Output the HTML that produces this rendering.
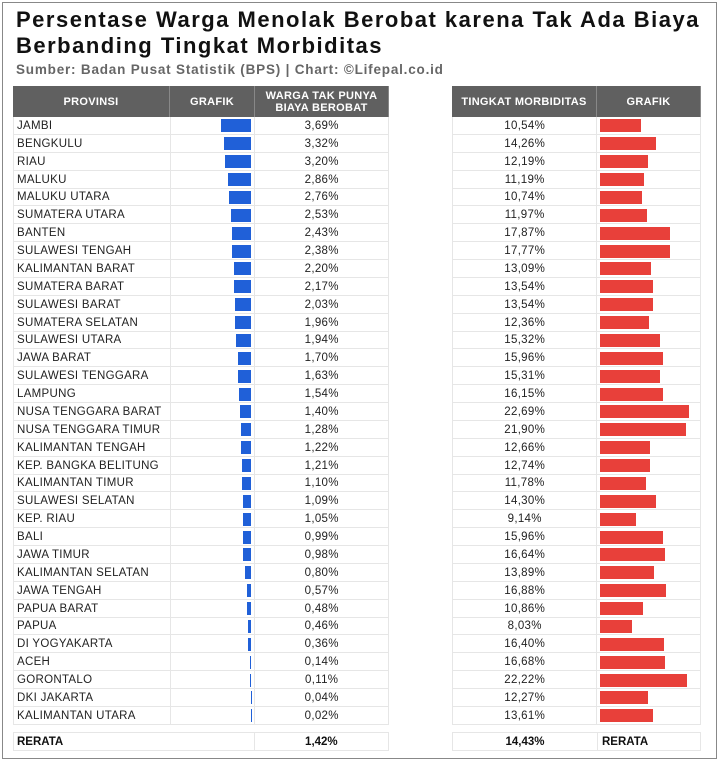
<!DOCTYPE html>
<html><head><meta charset="utf-8"><style>
*{margin:0;padding:0;box-sizing:border-box}
body{width:720px;height:763px;background:#fff;font-family:"Liberation Sans",sans-serif;position:relative;overflow:hidden}
.frame{position:absolute;left:2px;top:2px;width:715px;height:757px;border:1px solid #888}
h1{position:absolute;left:16px;top:7px;font-size:22px;line-height:26px;font-weight:bold;color:#111;letter-spacing:1.5px}
.sub{position:absolute;left:16px;top:62px;font-size:13.5px;font-weight:bold;color:#666;letter-spacing:0.8px}
.hdr{position:absolute;top:86px;height:31px;background:#606060;color:#fff;font-weight:bold;font-size:11px;display:flex;align-items:center;justify-content:center;text-align:center;line-height:12px;border-right:1px solid #888;letter-spacing:0.3px}
.rows{position:absolute;top:117px}
.r{height:17.88px;display:flex;border-bottom:1px solid #e6e6e6;font-size:11.5px;color:#222;align-items:center;letter-spacing:0.3px}
.r div{height:100%;display:flex;align-items:center;border-right:1px solid #e6e6e6;padding-top:1px}
.b{height:13px;border:none!important}
.bl{background:#2060d8}.rd{background:#e8403a}
.foot{position:absolute;top:732px;height:19px;display:flex;border:1px solid #e6e6e6;font-size:11.5px;font-weight:bold;color:#111;align-items:center}
</style></head><body>
<div class="frame"></div>
<h1>Persentase Warga Menolak Berobat karena Tak Ada Biaya<br>Berbanding Tingkat Morbiditas</h1>
<div class="sub">Sumber: Badan Pusat Statistik (BPS) | Chart: ©Lifepal.co.id</div>
<div class="hdr" style="left:13px;width:157px">PROVINSI</div>
<div class="hdr" style="left:170px;width:85px">GRAFIK</div>
<div class="hdr" style="left:255px;width:134px">WARGA TAK PUNYA<br>BIAYA BEROBAT</div>
<div class="hdr" style="left:452px;width:145px">TINGKAT MORBIDITAS</div>
<div class="hdr" style="left:597px;width:104px">GRAFIK</div>

<div class="rows" style="left:13px;width:376px;border-left:1px solid #e6e6e6">
<div class="r"><div style="width:157px;padding-left:3px">JAMBI</div><div style="width:85px;justify-content:flex-end;padding-right:3px"><span class="b bl" style="width:29.9px"></span></div><div style="width:134px;justify-content:center">3,69%</div></div>
<div class="r"><div style="width:157px;padding-left:3px">BENGKULU</div><div style="width:85px;justify-content:flex-end;padding-right:3px"><span class="b bl" style="width:26.9px"></span></div><div style="width:134px;justify-content:center">3,32%</div></div>
<div class="r"><div style="width:157px;padding-left:3px">RIAU</div><div style="width:85px;justify-content:flex-end;padding-right:3px"><span class="b bl" style="width:25.9px"></span></div><div style="width:134px;justify-content:center">3,20%</div></div>
<div class="r"><div style="width:157px;padding-left:3px">MALUKU</div><div style="width:85px;justify-content:flex-end;padding-right:3px"><span class="b bl" style="width:23.2px"></span></div><div style="width:134px;justify-content:center">2,86%</div></div>
<div class="r"><div style="width:157px;padding-left:3px">MALUKU UTARA</div><div style="width:85px;justify-content:flex-end;padding-right:3px"><span class="b bl" style="width:22.4px"></span></div><div style="width:134px;justify-content:center">2,76%</div></div>
<div class="r"><div style="width:157px;padding-left:3px">SUMATERA UTARA</div><div style="width:85px;justify-content:flex-end;padding-right:3px"><span class="b bl" style="width:20.5px"></span></div><div style="width:134px;justify-content:center">2,53%</div></div>
<div class="r"><div style="width:157px;padding-left:3px">BANTEN</div><div style="width:85px;justify-content:flex-end;padding-right:3px"><span class="b bl" style="width:19.7px"></span></div><div style="width:134px;justify-content:center">2,43%</div></div>
<div class="r"><div style="width:157px;padding-left:3px">SULAWESI TENGAH</div><div style="width:85px;justify-content:flex-end;padding-right:3px"><span class="b bl" style="width:19.3px"></span></div><div style="width:134px;justify-content:center">2,38%</div></div>
<div class="r"><div style="width:157px;padding-left:3px">KALIMANTAN BARAT</div><div style="width:85px;justify-content:flex-end;padding-right:3px"><span class="b bl" style="width:17.8px"></span></div><div style="width:134px;justify-content:center">2,20%</div></div>
<div class="r"><div style="width:157px;padding-left:3px">SUMATERA BARAT</div><div style="width:85px;justify-content:flex-end;padding-right:3px"><span class="b bl" style="width:17.6px"></span></div><div style="width:134px;justify-content:center">2,17%</div></div>
<div class="r"><div style="width:157px;padding-left:3px">SULAWESI BARAT</div><div style="width:85px;justify-content:flex-end;padding-right:3px"><span class="b bl" style="width:16.4px"></span></div><div style="width:134px;justify-content:center">2,03%</div></div>
<div class="r"><div style="width:157px;padding-left:3px">SUMATERA SELATAN</div><div style="width:85px;justify-content:flex-end;padding-right:3px"><span class="b bl" style="width:15.9px"></span></div><div style="width:134px;justify-content:center">1,96%</div></div>
<div class="r"><div style="width:157px;padding-left:3px">SULAWESI UTARA</div><div style="width:85px;justify-content:flex-end;padding-right:3px"><span class="b bl" style="width:15.7px"></span></div><div style="width:134px;justify-content:center">1,94%</div></div>
<div class="r"><div style="width:157px;padding-left:3px">JAWA BARAT</div><div style="width:85px;justify-content:flex-end;padding-right:3px"><span class="b bl" style="width:13.8px"></span></div><div style="width:134px;justify-content:center">1,70%</div></div>
<div class="r"><div style="width:157px;padding-left:3px">SULAWESI TENGGARA</div><div style="width:85px;justify-content:flex-end;padding-right:3px"><span class="b bl" style="width:13.2px"></span></div><div style="width:134px;justify-content:center">1,63%</div></div>
<div class="r"><div style="width:157px;padding-left:3px">LAMPUNG</div><div style="width:85px;justify-content:flex-end;padding-right:3px"><span class="b bl" style="width:12.5px"></span></div><div style="width:134px;justify-content:center">1,54%</div></div>
<div class="r"><div style="width:157px;padding-left:3px">NUSA TENGGARA BARAT</div><div style="width:85px;justify-content:flex-end;padding-right:3px"><span class="b bl" style="width:11.3px"></span></div><div style="width:134px;justify-content:center">1,40%</div></div>
<div class="r"><div style="width:157px;padding-left:3px">NUSA TENGGARA TIMUR</div><div style="width:85px;justify-content:flex-end;padding-right:3px"><span class="b bl" style="width:10.4px"></span></div><div style="width:134px;justify-content:center">1,28%</div></div>
<div class="r"><div style="width:157px;padding-left:3px">KALIMANTAN TENGAH</div><div style="width:85px;justify-content:flex-end;padding-right:3px"><span class="b bl" style="width:9.9px"></span></div><div style="width:134px;justify-content:center">1,22%</div></div>
<div class="r"><div style="width:157px;padding-left:3px">KEP. BANGKA BELITUNG</div><div style="width:85px;justify-content:flex-end;padding-right:3px"><span class="b bl" style="width:9.8px"></span></div><div style="width:134px;justify-content:center">1,21%</div></div>
<div class="r"><div style="width:157px;padding-left:3px">KALIMANTAN TIMUR</div><div style="width:85px;justify-content:flex-end;padding-right:3px"><span class="b bl" style="width:8.9px"></span></div><div style="width:134px;justify-content:center">1,10%</div></div>
<div class="r"><div style="width:157px;padding-left:3px">SULAWESI SELATAN</div><div style="width:85px;justify-content:flex-end;padding-right:3px"><span class="b bl" style="width:8.8px"></span></div><div style="width:134px;justify-content:center">1,09%</div></div>
<div class="r"><div style="width:157px;padding-left:3px">KEP. RIAU</div><div style="width:85px;justify-content:flex-end;padding-right:3px"><span class="b bl" style="width:8.5px"></span></div><div style="width:134px;justify-content:center">1,05%</div></div>
<div class="r"><div style="width:157px;padding-left:3px">BALI</div><div style="width:85px;justify-content:flex-end;padding-right:3px"><span class="b bl" style="width:8px"></span></div><div style="width:134px;justify-content:center">0,99%</div></div>
<div class="r"><div style="width:157px;padding-left:3px">JAWA TIMUR</div><div style="width:85px;justify-content:flex-end;padding-right:3px"><span class="b bl" style="width:7.9px"></span></div><div style="width:134px;justify-content:center">0,98%</div></div>
<div class="r"><div style="width:157px;padding-left:3px">KALIMANTAN SELATAN</div><div style="width:85px;justify-content:flex-end;padding-right:3px"><span class="b bl" style="width:6.5px"></span></div><div style="width:134px;justify-content:center">0,80%</div></div>
<div class="r"><div style="width:157px;padding-left:3px">JAWA TENGAH</div><div style="width:85px;justify-content:flex-end;padding-right:3px"><span class="b bl" style="width:4.6px"></span></div><div style="width:134px;justify-content:center">0,57%</div></div>
<div class="r"><div style="width:157px;padding-left:3px">PAPUA BARAT</div><div style="width:85px;justify-content:flex-end;padding-right:3px"><span class="b bl" style="width:3.9px"></span></div><div style="width:134px;justify-content:center">0,48%</div></div>
<div class="r"><div style="width:157px;padding-left:3px">PAPUA</div><div style="width:85px;justify-content:flex-end;padding-right:3px"><span class="b bl" style="width:3.7px"></span></div><div style="width:134px;justify-content:center">0,46%</div></div>
<div class="r"><div style="width:157px;padding-left:3px">DI YOGYAKARTA</div><div style="width:85px;justify-content:flex-end;padding-right:3px"><span class="b bl" style="width:2.9px"></span></div><div style="width:134px;justify-content:center">0,36%</div></div>
<div class="r"><div style="width:157px;padding-left:3px">ACEH</div><div style="width:85px;justify-content:flex-end;padding-right:3px"><span class="b bl" style="width:1.1px"></span></div><div style="width:134px;justify-content:center">0,14%</div></div>
<div class="r"><div style="width:157px;padding-left:3px">GORONTALO</div><div style="width:85px;justify-content:flex-end;padding-right:3px"><span class="b bl" style="width:0.9px"></span></div><div style="width:134px;justify-content:center">0,11%</div></div>
<div class="r"><div style="width:157px;padding-left:3px">DKI JAKARTA</div><div style="width:85px;justify-content:flex-end;padding-right:3px"><span class="b bl" style="width:0.4px"></span></div><div style="width:134px;justify-content:center">0,04%</div></div>
<div class="r"><div style="width:157px;padding-left:3px">KALIMANTAN UTARA</div><div style="width:85px;justify-content:flex-end;padding-right:3px"><span class="b bl" style="width:0.2px"></span></div><div style="width:134px;justify-content:center">0,02%</div></div>
</div>

<div class="rows" style="left:452px;width:249px;border-left:1px solid #e6e6e6">
<div class="r"><div style="width:145px;justify-content:center">10,54%</div><div style="width:104px;padding-left:3px"><span class="b rd" style="width:41px"></span></div></div>
<div class="r"><div style="width:145px;justify-content:center">14,26%</div><div style="width:104px;padding-left:3px"><span class="b rd" style="width:55.5px"></span></div></div>
<div class="r"><div style="width:145px;justify-content:center">12,19%</div><div style="width:104px;padding-left:3px"><span class="b rd" style="width:47.4px"></span></div></div>
<div class="r"><div style="width:145px;justify-content:center">11,19%</div><div style="width:104px;padding-left:3px"><span class="b rd" style="width:43.5px"></span></div></div>
<div class="r"><div style="width:145px;justify-content:center">10,74%</div><div style="width:104px;padding-left:3px"><span class="b rd" style="width:41.8px"></span></div></div>
<div class="r"><div style="width:145px;justify-content:center">11,97%</div><div style="width:104px;padding-left:3px"><span class="b rd" style="width:46.6px"></span></div></div>
<div class="r"><div style="width:145px;justify-content:center">17,87%</div><div style="width:104px;padding-left:3px"><span class="b rd" style="width:69.5px"></span></div></div>
<div class="r"><div style="width:145px;justify-content:center">17,77%</div><div style="width:104px;padding-left:3px"><span class="b rd" style="width:69.1px"></span></div></div>
<div class="r"><div style="width:145px;justify-content:center">13,09%</div><div style="width:104px;padding-left:3px"><span class="b rd" style="width:50.9px"></span></div></div>
<div class="r"><div style="width:145px;justify-content:center">13,54%</div><div style="width:104px;padding-left:3px"><span class="b rd" style="width:52.7px"></span></div></div>
<div class="r"><div style="width:145px;justify-content:center">13,54%</div><div style="width:104px;padding-left:3px"><span class="b rd" style="width:52.7px"></span></div></div>
<div class="r"><div style="width:145px;justify-content:center">12,36%</div><div style="width:104px;padding-left:3px"><span class="b rd" style="width:48.1px"></span></div></div>
<div class="r"><div style="width:145px;justify-content:center">15,32%</div><div style="width:104px;padding-left:3px"><span class="b rd" style="width:59.6px"></span></div></div>
<div class="r"><div style="width:145px;justify-content:center">15,96%</div><div style="width:104px;padding-left:3px"><span class="b rd" style="width:62.1px"></span></div></div>
<div class="r"><div style="width:145px;justify-content:center">15,31%</div><div style="width:104px;padding-left:3px"><span class="b rd" style="width:59.6px"></span></div></div>
<div class="r"><div style="width:145px;justify-content:center">16,15%</div><div style="width:104px;padding-left:3px"><span class="b rd" style="width:62.8px"></span></div></div>
<div class="r"><div style="width:145px;justify-content:center">22,69%</div><div style="width:104px;padding-left:3px"><span class="b rd" style="width:88.3px"></span></div></div>
<div class="r"><div style="width:145px;justify-content:center">21,90%</div><div style="width:104px;padding-left:3px"><span class="b rd" style="width:85.2px"></span></div></div>
<div class="r"><div style="width:145px;justify-content:center">12,66%</div><div style="width:104px;padding-left:3px"><span class="b rd" style="width:49.2px"></span></div></div>
<div class="r"><div style="width:145px;justify-content:center">12,74%</div><div style="width:104px;padding-left:3px"><span class="b rd" style="width:49.6px"></span></div></div>
<div class="r"><div style="width:145px;justify-content:center">11,78%</div><div style="width:104px;padding-left:3px"><span class="b rd" style="width:45.8px"></span></div></div>
<div class="r"><div style="width:145px;justify-content:center">14,30%</div><div style="width:104px;padding-left:3px"><span class="b rd" style="width:55.6px"></span></div></div>
<div class="r"><div style="width:145px;justify-content:center">9,14%</div><div style="width:104px;padding-left:3px"><span class="b rd" style="width:35.6px"></span></div></div>
<div class="r"><div style="width:145px;justify-content:center">15,96%</div><div style="width:104px;padding-left:3px"><span class="b rd" style="width:62.1px"></span></div></div>
<div class="r"><div style="width:145px;justify-content:center">16,64%</div><div style="width:104px;padding-left:3px"><span class="b rd" style="width:64.7px"></span></div></div>
<div class="r"><div style="width:145px;justify-content:center">13,89%</div><div style="width:104px;padding-left:3px"><span class="b rd" style="width:54px"></span></div></div>
<div class="r"><div style="width:145px;justify-content:center">16,88%</div><div style="width:104px;padding-left:3px"><span class="b rd" style="width:65.7px"></span></div></div>
<div class="r"><div style="width:145px;justify-content:center">10,86%</div><div style="width:104px;padding-left:3px"><span class="b rd" style="width:42.2px"></span></div></div>
<div class="r"><div style="width:145px;justify-content:center">8,03%</div><div style="width:104px;padding-left:3px"><span class="b rd" style="width:31.2px"></span></div></div>
<div class="r"><div style="width:145px;justify-content:center">16,40%</div><div style="width:104px;padding-left:3px"><span class="b rd" style="width:63.8px"></span></div></div>
<div class="r"><div style="width:145px;justify-content:center">16,68%</div><div style="width:104px;padding-left:3px"><span class="b rd" style="width:64.9px"></span></div></div>
<div class="r"><div style="width:145px;justify-content:center">22,22%</div><div style="width:104px;padding-left:3px"><span class="b rd" style="width:86.4px"></span></div></div>
<div class="r"><div style="width:145px;justify-content:center">12,27%</div><div style="width:104px;padding-left:3px"><span class="b rd" style="width:47.7px"></span></div></div>
<div class="r"><div style="width:145px;justify-content:center">13,61%</div><div style="width:104px;padding-left:3px"><span class="b rd" style="width:52.9px"></span></div></div>
</div>

<div class="foot" style="left:13px;width:376px"><div style="width:242px;padding-left:3px;border-right:1px solid #e6e6e6;height:100%;display:flex;align-items:center">RERATA</div><div style="width:134px;text-align:center">1,42%</div></div>
<div class="foot" style="left:452px;width:249px"><div style="width:145px;text-align:center;border-right:1px solid #e6e6e6;height:100%;display:flex;align-items:center;justify-content:center">14,43%</div><div style="padding-left:4px">RERATA</div></div>
</body></html>
